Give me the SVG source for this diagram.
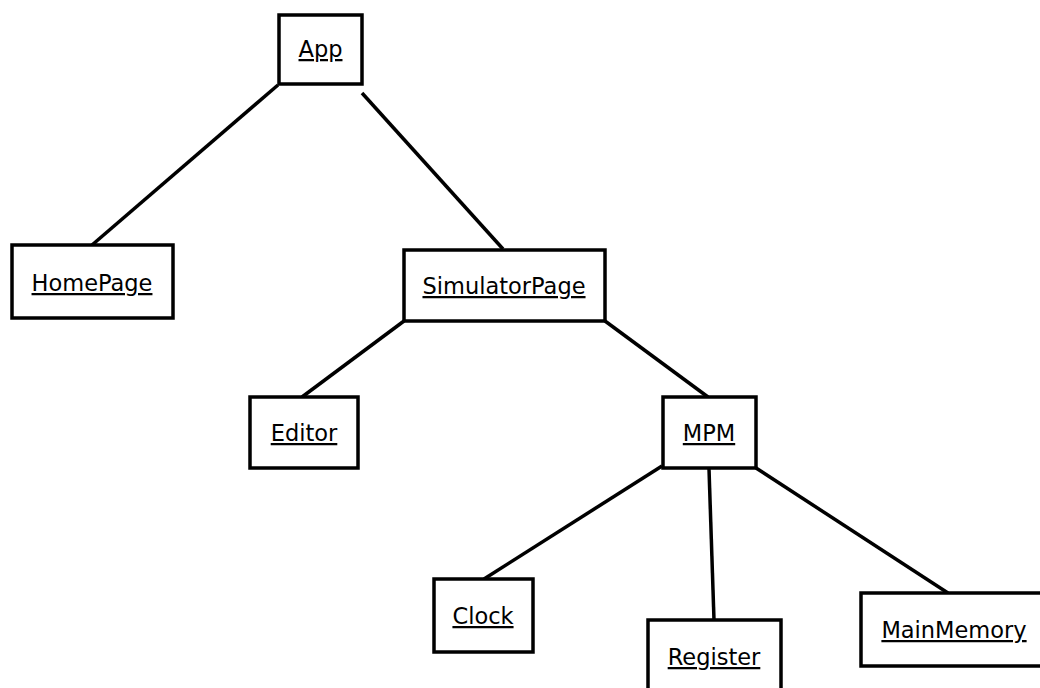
<svg xmlns="http://www.w3.org/2000/svg" width="1040" height="688" viewBox="0 0 1040 688">
<style>
.box{fill:#fff;stroke:#000;stroke-width:3.5}
.lbl{font-family:"DejaVu Sans",sans-serif;font-size:22.5px;fill:#000;text-anchor:middle;text-decoration:underline}
.edge{stroke:#000;stroke-width:3.5;fill:none}
</style>
<rect width="1040" height="688" fill="#fff"/>
<g id="connectors">
<line class="edge" x1="278" y1="85" x2="92" y2="245"/>
<line class="edge" x1="362" y1="93" x2="503" y2="249"/>
<line class="edge" x1="404" y1="321" x2="302" y2="397"/>
<line class="edge" x1="605" y1="321" x2="708" y2="397"/>
<line class="edge" x1="662" y1="466" x2="484" y2="579"/>
<line class="edge" x1="709" y1="469" x2="714" y2="620"/>
<line class="edge" x1="756" y1="468" x2="948" y2="593"/>
</g>
<g id="App"><rect class="box" x="279" y="15" width="83" height="69"/><text class="lbl" x="320.5" y="57">App</text></g>
<g id="HomePage"><rect class="box" x="12" y="245" width="161" height="73"/><text class="lbl" x="92" y="291">HomePage</text></g>
<g id="SimulatorPage"><rect class="box" x="404" y="250" width="201" height="71"/><text class="lbl" x="504" y="294">SimulatorPage</text></g>
<g id="Editor"><rect class="box" x="250" y="397" width="108" height="71"/><text class="lbl" x="304" y="441">Editor</text></g>
<g id="MPM"><rect class="box" x="663" y="397" width="93" height="71"/><text class="lbl" x="709" y="441">MPM</text></g>
<g id="Clock"><rect class="box" x="434" y="579" width="99" height="73"/><text class="lbl" x="483" y="624">Clock</text></g>
<g id="Register"><rect class="box" x="648" y="620" width="133" height="75"/><text class="lbl" x="714" y="665">Register</text></g>
<g id="MainMemory"><rect class="box" x="861" y="593" width="186" height="73"/><text class="lbl" x="954" y="638">MainMemory</text></g>
</svg>
